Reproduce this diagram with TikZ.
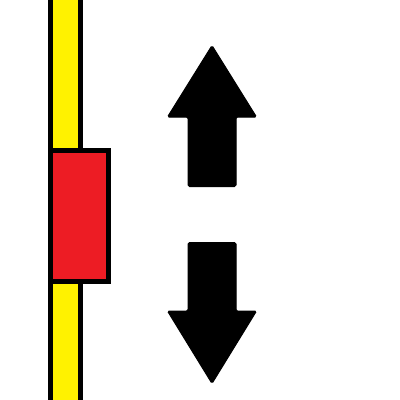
\documentclass[tikz,border=0pt]{standalone}
\begin{document}
\begin{tikzpicture}[x=1pt,y=-1pt,
  barstyle/.style={fill={rgb,255:red,255;green,242;blue,0},draw=black,line width=5pt},
  blockstyle/.style={fill={rgb,255:red,237;green,28;blue,36},draw=black,line width=5pt},
  arrowshape/.style={fill=black,draw=black,line width=1pt,rounded corners=1.5pt}]
\useasboundingbox (0,0) rectangle (400,400);
\fill[white] (0,0) rectangle (400,400);
% yellow bar
\draw[barstyle] (50.5,-10) rectangle (80.5,410);
% red block
\draw[blockstyle] (50.5,150.5) rectangle (108.5,281.5);
% up arrow
\filldraw[arrowshape] (212,45.5) -- (256.5,117) -- (236,117) -- (236,186.5) -- (188,186.5) -- (188,117) -- (167.5,117) -- cycle;
% down arrow
\filldraw[arrowshape] (188,242.5) -- (236,242.5) -- (236,311) -- (256.5,311) -- (212,383.5) -- (167.5,311) -- (188,311) -- cycle;
\end{tikzpicture}
\end{document}
